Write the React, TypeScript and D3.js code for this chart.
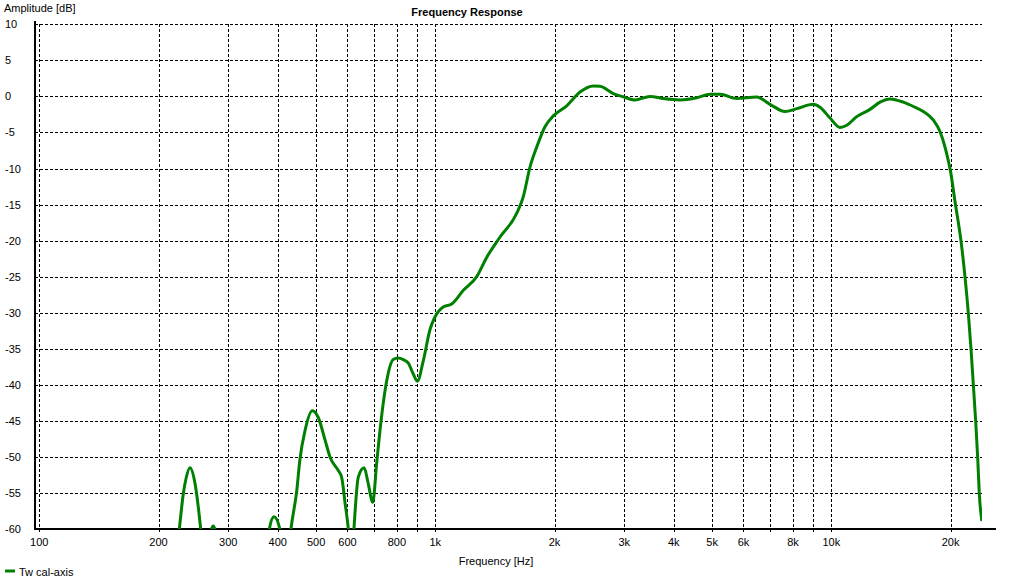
import React from 'react';
import * as d3 from 'd3';

// Frequency (Hz) and amplitude (dB); null marks a gap between curve pieces
const freqHz: (number | null)[] = [
  221, 225.7, 231, 234.7, 240.2, 247.3, 252.1, 255.6, 259,
  null,
  268, 275, 281,
  null,
  378, 381, 391.4, 405, 409,
  null,
  428, 432, 447, 455, 469, 489, 506, 527, 542, 569,
  580, 592, 603, 609, 618, 623, 639, 661, 677, 695,
  711, 725, 754, 783, 805, 830, 855, 878, 901, 933,
  970, 998, 1047, 1100, 1177, 1272, 1349, 1457, 1606, 1668,
  1734, 1804, 1892, 1986, 2147, 2320, 2506, 2606, 2815, 2983,
  3193, 3484, 3764, 4149, 4573, 4939, 5235, 5769, 6479, 7002,
  7641, 8179, 9005, 9364, 9924, 10520, 10940, 11590, 12520, 13270,
  14070, 15200, 16120, 17080, 18100, 18820, 19450, 20000, 20530, 21260,
  21760, 22180, 22530, 22840, 23150, 23420, 23640, 24000,
];

const ampDb: (number | null)[] = [
  -64, -60, -55.1, -53.0, -51.5, -53.7, -57.0, -60, -63,
  null,
  -61.5, -59.6, -61.5,
  null,
  -62, -60, -58.3, -60, -62,
  null,
  -62, -60, -54.6, -50.4, -46.3, -43.6, -44.5, -47.7, -50.0, -51.9,
  -52.8, -56.5, -60, -63, -63, -60, -52.8, -51.5, -53.7, -56.3,
  -50.9, -46.3, -39.4, -36.5, -36.3, -36.5, -37.0, -38.4, -39.5, -36.6,
  -32.3, -30.6, -29.2, -28.8, -26.9, -25.0, -22.3, -19.5, -16.2, -13.9,
  -9.8, -7.0, -4.2, -2.7, -1.3, 0.6, 1.45, 1.4, 0.4, -0.05,
  -0.5, 0, -0.3, -0.5, -0.2, 0.3, 0.3, -0.3, -0.1, -1.1,
  -2.1, -1.7, -1.1, -1.5, -3.0, -4.3, -4.0, -2.8, -1.8, -0.8,
  -0.35, -0.8, -1.4, -2.1, -3.3, -4.9, -7.4, -10.4, -14.6, -20.1,
  -25.1, -30.1, -35.1, -40.1, -45.1, -50.1, -55.1, -58.9,
];

const yTicks = [10, 5, 0, -5, -10, -15, -20, -25, -30, -35, -40, -45, -50, -55, -60];
const gridFreqs = [100, 200, 300, 400, 500, 600, 700, 800, 900, 1000, 2000, 3000, 4000, 5000, 6000, 7000, 8000, 9000, 10000, 20000];
const labeledFreqs = [100, 200, 300, 400, 500, 600, 800, 1000, 2000, 3000, 4000, 5000, 6000, 8000, 10000, 20000];
const freqLabels = ['100', '200', '300', '400', '500', '600', '800', '1k', '2k', '3k', '4k', '5k', '6k', '8k', '10k', '20k'];

const seriesName = 'Tw cal-axis';
const FONT = '"Liberation Sans", Arial, sans-serif';

export default function App() {
  const x = d3.scaleLog().domain([100, 24000]).range([39.3, 981.9]);
  const y = d3.scaleLinear().domain([-60, 10]).range([529, 24.3]);

  const pts = freqHz.map((f, i) => ({ f, a: ampDb[i] }));
  const line = d3
    .line<{ f: number | null; a: number | null }>()
    .defined((d) => d.f != null && d.a != null)
    .x((d) => x(d.f as number))
    .y((d) => y(d.a as number))
    .curve(d3.curveMonotoneX);

  const px = (v: number) => Math.round(v) + 0.5;

  return (
    <svg
      width={1031}
      height={579}
      style={{ position: 'absolute', left: 0, top: 0, background: '#fff' }}
      fontFamily={FONT}
    >
      <rect x={0} y={0} width={1031} height={579} fill="#fff" />
      <defs>
        <clipPath id="plotClip">
          <rect x={35} y={15} width={947} height={514} />
        </clipPath>
      </defs>

      {/* horizontal grid */}
      {yTicks
        .filter((t) => t !== -60)
        .map((t) => (
          <line
            key={'h' + t}
            x1={35}
            x2={982}
            y1={px(y(t))}
            y2={px(y(t))}
            stroke="#000"
            strokeWidth={1}
            strokeDasharray="3,2"
            shapeRendering="crispEdges"
          />
        ))}
      {/* vertical grid */}
      {gridFreqs.map((f) => (
        <line
          key={'v' + f}
          x1={px(x(f))}
          x2={px(x(f))}
          y1={24}
          y2={534}
          stroke="#000"
          strokeWidth={1}
          strokeDasharray="3,2"
          shapeRendering="crispEdges"
        />
      ))}

      {/* axes */}
      <line x1={35} x2={35} y1={21} y2={530} stroke="#000" strokeWidth={2} shapeRendering="crispEdges" />
      <line x1={34} x2={996} y1={529} y2={529} stroke="#000" strokeWidth={2} shapeRendering="crispEdges" />

      {/* curve */}
      <path
        d={line(pts) || ''}
        fill="none"
        stroke="#008000"
        strokeWidth={3}
        strokeLinejoin="round"
        clipPath="url(#plotClip)"
      />

      {/* y tick labels */}
      {yTicks.map((t) => (
        <text key={'yl' + t} x={5} y={y(t) + 4} fontSize={11} fill="#000">
          {t}
        </text>
      ))}
      {/* x tick labels */}
      {labeledFreqs.map((f, i) => (
        <text key={'xl' + f} x={x(f)} y={546} fontSize={11} textAnchor="middle" fill="#000">
          {freqLabels[i]}
        </text>
      ))}

      <text x={4} y={12} fontSize={11} fill="#000">
        Amplitude [dB]
      </text>
      <text x={467} y={16} fontSize={11} fontWeight="bold" textAnchor="middle" fill="#000">
        Frequency Response
      </text>
      <text x={496} y={565} fontSize={11} textAnchor="middle" fill="#000">
        Frequency [Hz]
      </text>

      {/* legend */}
      <line x1={5} x2={15} y1={571} y2={571} stroke="#008000" strokeWidth={3} />
      <text x={19} y={576} fontSize={11} fill="#000">
        {seriesName}
      </text>
    </svg>
  );
}
